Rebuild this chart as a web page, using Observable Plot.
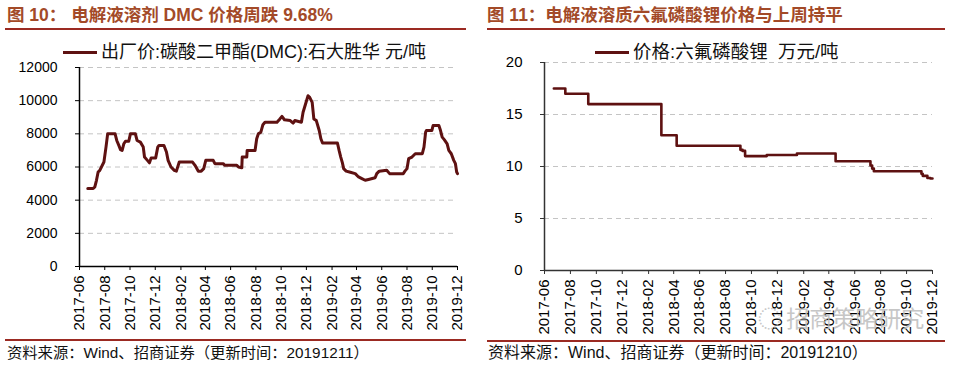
<!DOCTYPE html>
<html><head><meta charset="utf-8">
<script src="https://cdn.jsdelivr.net/npm/d3@7"></script>
<script src="https://cdn.jsdelivr.net/npm/@observablehq/plot@0.6"></script>
<style>
body{margin:0;background:#fff;}
#page{position:relative;width:962px;height:368px;overflow:hidden;background:#fff;font-family:"Liberation Sans",Arial,"Noto Sans CJK SC",sans-serif;}
.title{position:absolute;top:5px;height:20px;line-height:20px;font-size:17.5px;font-weight:bold;color:#A34A28;white-space:nowrap;font-family:"Liberation Sans",Arial,"Noto Sans CJK SC",sans-serif;}
.rule{position:absolute;height:2px;background:#9B2A22;}
.legend{position:absolute;top:42px;height:20px;line-height:20px;font-size:18.5px;color:#111;white-space:nowrap;font-family:"Liberation Sans",Arial,"Noto Sans CJK SC",sans-serif;}
.legend .sw{display:inline-block;width:34px;height:3px;background:#5E1111;vertical-align:middle;margin-right:4px;position:relative;top:-1px;}
.source{position:absolute;top:343px;height:20px;line-height:20px;font-size:16px;color:#111;white-space:nowrap;font-family:"Liberation Sans",Arial,"Noto Sans CJK SC",sans-serif;}
.chart{position:absolute;}
.wm{position:absolute;left:758px;top:300px;font-size:23px;color:#bdbdbd;opacity:0.85;font-family:"Noto Sans CJK SC",sans-serif;white-space:nowrap;}
</style></head>
<body><div id="page">
<div class="title" style="left:7px">图 10：&nbsp;电解液溶剂 DMC 价格周跌 9.68%</div>
<div class="rule" style="left:5px;width:461px;top:28px"></div>
<div class="legend" style="left:63px;font-size:18px"><span class="sw"></span>出厂价:碳酸二甲酯(DMC):石大胜华 元/吨</div>
<div class="chart" id="left" style="left:0px;top:60px"></div>
<div class="rule" style="left:5px;width:461px;top:339px"></div>
<div class="source" style="left:7px;font-size:15.3px">资料来源：Wind、招商证券（更新时间：20191211）</div>

<div class="title" style="left:487px">图 11：电解液溶质六氟磷酸锂价格与上周持平</div>
<div class="rule" style="left:487px;width:458px;top:28px"></div>
<div class="legend" style="left:595px"><span class="sw"></span>价格:六氟磷酸锂&nbsp; 万元/吨</div>
<div class="chart" id="right" style="left:480px;top:55px"></div>
<div class="wm">◌ 招商策略研究</div>
<div class="rule" style="left:487px;width:458px;top:340px"></div>
<div class="source" style="left:488px">资料来源：Wind、招商证券（更新时间：20191210）</div>
</div>
<script>
// ---- Data ----
const xTickLabels = ["2017-06","2017-08","2017-10","2017-12","2018-02","2018-04","2018-06","2018-08","2018-10","2018-12","2019-02","2019-04","2019-06","2019-08","2019-10","2019-12"];

const dmcDates = ["2017-06-21","2017-07-04","2017-07-08","2017-07-12","2017-07-16","2017-07-20","2017-07-24","2017-07-30","2017-08-04","2017-08-08","2017-08-26","2017-08-30","2017-09-04","2017-09-08","2017-09-12","2017-09-16","2017-09-20","2017-09-28","2017-10-02","2017-10-14","2017-10-18","2017-10-26","2017-11-02","2017-11-05","2017-11-12","2017-11-17","2017-11-21","2017-12-02","2017-12-07","2017-12-10","2017-12-22","2017-12-28","2018-01-01","2018-01-08","2018-01-16","2018-01-21","2018-01-28","2018-03-01","2018-03-07","2018-03-15","2018-03-22","2018-03-28","2018-04-02","2018-04-20","2018-04-24","2018-05-14","2018-05-18","2018-06-16","2018-06-20","2018-06-28","2018-06-29","2018-07-10","2018-07-11","2018-07-30","2018-08-03","2018-08-07","2018-08-13","2018-08-18","2018-08-23","2018-09-21","2018-09-28","2018-10-03","2018-10-09","2018-10-23","2018-10-30","2018-11-03","2018-11-19","2018-11-23","2018-11-29","2018-12-05","2018-12-09","2018-12-15","2018-12-19","2018-12-25","2019-01-01","2019-01-05","2019-01-09","2019-02-14","2019-02-18","2019-02-22","2019-02-26","2019-03-01","2019-03-07","2019-03-15","2019-03-29","2019-04-06","2019-04-14","2019-04-22","2019-04-30","2019-05-16","2019-05-20","2019-05-26","2019-06-13","2019-06-20","2019-07-23","2019-07-27","2019-08-01","2019-08-05","2019-08-13","2019-08-21","2019-09-07","2019-09-11","2019-09-15","2019-09-17","2019-09-30","2019-10-03","2019-10-17","2019-10-21","2019-10-25","2019-10-30","2019-11-06","2019-11-10","2019-11-16","2019-11-22","2019-11-26","2019-11-29","2019-12-01"];
const dmcValues = [4700,4700,4800,5200,5700,5800,6000,6300,7200,8000,8000,7600,7300,7050,7000,7400,7550,7550,8000,8000,7600,7500,7200,6600,6400,6250,6550,6550,7200,7300,7300,6900,6400,6000,5800,5750,6300,6300,6100,5750,5750,5900,6400,6400,6200,6200,6100,6100,6000,5950,6600,6600,7000,7000,7700,8000,8100,8550,8700,8700,8900,9050,8850,8800,8650,8800,8700,9300,9800,10300,10200,9900,8900,8800,8200,7700,7450,7450,7000,6600,6250,5900,5750,5700,5600,5400,5300,5200,5250,5350,5600,5750,5800,5600,5600,5750,5900,6500,6600,6800,6800,7200,8100,8200,8200,8500,8500,8200,7800,7650,7400,7000,6800,6400,6200,5700,5600];
const dmcYTicks = [0,2000,4000,6000,8000,10000,12000];

const lpfDates = ["2017-06-23","2017-07-20","2017-09-12","2018-03-03","2018-04-08","2018-09-05","2018-09-10","2018-09-16","2018-11-06","2019-01-16","2019-04-17","2019-07-08","2019-07-12","2019-07-16","2019-11-05","2019-11-08","2019-11-19","2019-11-26","2019-12-01"];
const lpfValues = [17.5,17,16,13,12,11.6,11.5,11.0,11.1,11.25,10.5,10.1,9.8,9.55,9.3,9.1,8.9,8.85,8.85];
const lpfYTicks = [0,5,10,15,20];

// ---- Build ----
const parseDay = d3.utcParse("%Y-%m-%d");
const parseMonth = d3.utcParse("%Y-%m");
const xTickDates = xTickLabels.map(parseMonth);
const xDomain = [xTickDates[0], xTickDates[xTickDates.length - 1]];
const dmc = dmcDates.map((d, i) => ({date: parseDay(d), value: dmcValues[i]}));
const lpf = lpfDates.map((d, i) => ({date: parseDay(d), value: lpfValues[i]}));
const fmt = d3.utcFormat("%Y-%m");
const font = "Liberation Sans, Arial, sans-serif";

function chart({data, yTicks, width, height, mt, mb, ml, mr, curve, sw, axisColor, fs}) {
  return Plot.plot({
    width, height, marginTop: mt, marginBottom: mb, marginLeft: ml, marginRight: mr,
    style: {fontFamily: font, fontSize: fs + "px", color: "#000", background: "transparent", overflow: "visible"},
    x: {type: "utc", domain: xDomain, label: null},
    y: {domain: [yTicks[0], yTicks[yTicks.length - 1]], label: null},
    marks: [
      Plot.gridY(yTicks.slice(1), {stroke: "#c4c4c4", strokeOpacity: 1, strokeDasharray: "5,4", strokeWidth: 1}),
      Plot.axisY(yTicks, {tickSize: 4, tickPadding: 18, fontSize: fs, stroke: axisColor, label: null, tickFormat: d => String(d)}),
      Plot.axisX(xTickDates, {tickFormat: fmt, tickRotate: -90, tickSize: 4, tickPadding: 5, fontSize: 15, stroke: axisColor, label: null}),
      Plot.ruleY([yTicks[0]], {stroke: axisColor, strokeWidth: 1.5}),
      Plot.ruleX([xDomain[0]], {stroke: axisColor, strokeWidth: 1.5}),
      Plot.line(data, {x: "date", y: "value", stroke: "#5E1111", strokeWidth: sw, curve})
    ]
  });
}

document.getElementById("left").append(chart({data: dmc, yTicks: dmcYTicks, width: 470, height: 280, mt: 7, mb: 74, ml: 79, mr: 13, curve: "linear", sw: 3, axisColor: "#000", fs: 14}));
document.getElementById("right").append(chart({data: lpf, yTicks: lpfYTicks, width: 470, height: 285, mt: 7, mb: 70, ml: 64, mr: 18, curve: "step-after", sw: 2.6, axisColor: "#333", fs: 15}));
</script>
</body></html>
